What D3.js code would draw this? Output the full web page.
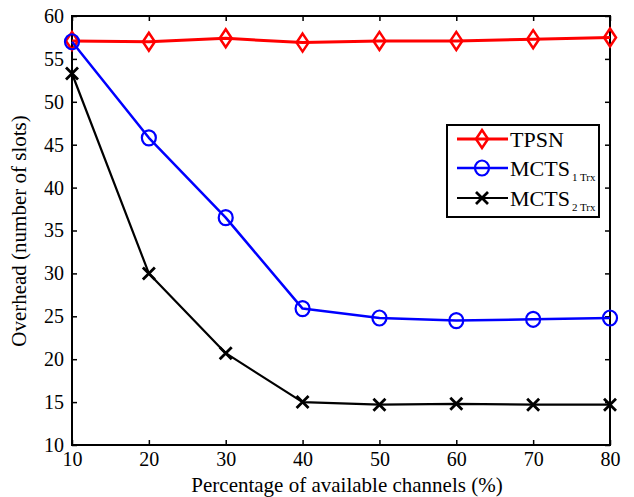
<!DOCTYPE html>
<html>
<head>
<meta charset="utf-8">
<script src="https://cdn.jsdelivr.net/npm/d3@7"></script>
<style>
  html, body { margin: 0; padding: 0; background: #fff; }
</style>
</head>
<body>
<svg id="chart" width="634" height="497"></svg>
<script>
const channels = [10, 20, 30, 40, 50, 60, 70, 80];
const tpsn = [57.1, 57.0, 57.4, 56.9, 57.1, 57.1, 57.3, 57.5];
const mcts1 = [57.0, 45.8, 36.5, 25.9, 24.8, 24.5, 24.65, 24.8];
const mcts2 = [53.3, 30.0, 20.7, 15.0, 14.7, 14.8, 14.7, 14.7];
const xTicks = [10, 20, 30, 40, 50, 60, 70, 80];
const yTicks = [10, 15, 20, 25, 30, 35, 40, 45, 50, 55, 60];

const serif = '"Liberation Serif", "Times New Roman", Times, serif';
const svg = d3.select('#chart').attr('font-family', serif);
const plotL = 72, plotR = 610, plotT = 16, plotB = 445;

const x = d3.scaleLinear().domain([10, 80]).range([plotL, plotR]);
const y = d3.scaleLinear().domain([10, 60]).range([plotB, plotT]);

// axes, ticks inward on all four sides
const tickLen = 5;
svg.append('g').attr('transform', `translate(0,${plotB})`)
  .call(d3.axisBottom(x).tickValues(xTicks).tickSizeInner(-tickLen).tickSizeOuter(0).tickPadding(7));
svg.append('g').attr('transform', `translate(0,${plotT})`)
  .call(d3.axisTop(x).tickValues(xTicks).tickSizeInner(-tickLen).tickSizeOuter(0).tickFormat(''));
svg.append('g').attr('transform', `translate(${plotL},0)`)
  .call(d3.axisLeft(y).tickValues(yTicks).tickSizeInner(-tickLen).tickSizeOuter(0).tickPadding(8));
svg.append('g').attr('transform', `translate(${plotR},0)`)
  .call(d3.axisRight(y).tickValues(yTicks).tickSizeInner(-tickLen).tickSizeOuter(0).tickFormat(''));

svg.selectAll('g').attr('font-family', serif);
svg.selectAll('.domain').remove();
svg.selectAll('.tick line').attr('stroke', '#000').attr('stroke-width', 1.5);
svg.selectAll('.tick text')
  .style('font-family', serif).style('font-size', '20px').attr('fill', '#000');

svg.append('rect')
  .attr('x', plotL).attr('y', plotT)
  .attr('width', plotR - plotL).attr('height', plotB - plotT)
  .attr('fill', 'none').attr('stroke', '#000').attr('stroke-width', 2);

// series
const diamond = 'M0,-9L6,0L0,9L-6,0Z';
const cross = 'M-6,-6L6,6M-6,6L6,-6';
const series = [
  { name: 'TPSN', sub: '', values: tpsn, color: '#ff0000', width: 3, marker: 'diamond' },
  { name: 'MCTS', sub: '1 Trx', values: mcts1, color: '#0000ff', width: 2.5, marker: 'circle' },
  { name: 'MCTS', sub: '2 Trx', values: mcts2, color: '#000000', width: 2.2, marker: 'cross' }
];

function drawMarker(g, type, color) {
  if (type === 'diamond') {
    g.append('path').attr('d', diamond).attr('fill', 'none').attr('stroke', color).attr('stroke-width', 2.5);
  } else if (type === 'circle') {
    g.append('ellipse').attr('rx', 7).attr('ry', 7.5).attr('fill', 'none').attr('stroke', color).attr('stroke-width', 2.2);
  } else {
    g.append('path').attr('d', cross).attr('fill', 'none').attr('stroke', color).attr('stroke-width', 2.8);
  }
}

const line = d3.line().x((d, i) => x(channels[i])).y(d => y(d));

series.forEach(s => {
  svg.append('path')
    .datum(s.values)
    .attr('d', line)
    .attr('fill', 'none')
    .attr('stroke', s.color)
    .attr('stroke-width', s.width)
    .attr('stroke-linejoin', 'round');
  s.values.forEach((v, i) => {
    const g = svg.append('g').attr('transform', `translate(${x(channels[i])},${y(v)})`);
    drawMarker(g, s.marker, s.color);
  });
});

// legend
const legend = svg.append('g');
legend.append('rect')
  .attr('x', 447).attr('y', 125).attr('width', 152).attr('height', 92)
  .attr('fill', '#fff').attr('stroke', '#000').attr('stroke-width', 2);
const rowY = [139, 168, 198];
series.forEach((s, i) => {
  const g = legend.append('g').attr('transform', `translate(0,${rowY[i]})`);
  g.append('line').attr('x1', 457).attr('x2', 508).attr('y1', 0).attr('y2', 0)
    .attr('stroke', s.color).attr('stroke-width', s.width);
  const m = g.append('g').attr('transform', 'translate(482,0)');
  drawMarker(m, s.marker, s.color);
  const t = g.append('text').attr('x', 510).attr('y', 8)
    .style('font-family', serif).style('font-size', '22px').text(s.name);
  if (s.sub) {
    t.append('tspan').attr('dy', 5).attr('dx', 2).style('font-size', '11px').text(s.sub);
  }
});

// axis titles
svg.append('text')
  .attr('x', 347).attr('y', 492)
  .attr('text-anchor', 'middle')
  .style('font-family', serif).style('font-size', '21px')
  .text('Percentage of available channels (%)');
svg.append('text')
  .attr('transform', 'translate(26,231) rotate(-90)')
  .attr('text-anchor', 'middle')
  .style('font-family', serif).style('font-size', '21px')
  .text('Overhead (number of slots)');
</script>
</body>
</html>
